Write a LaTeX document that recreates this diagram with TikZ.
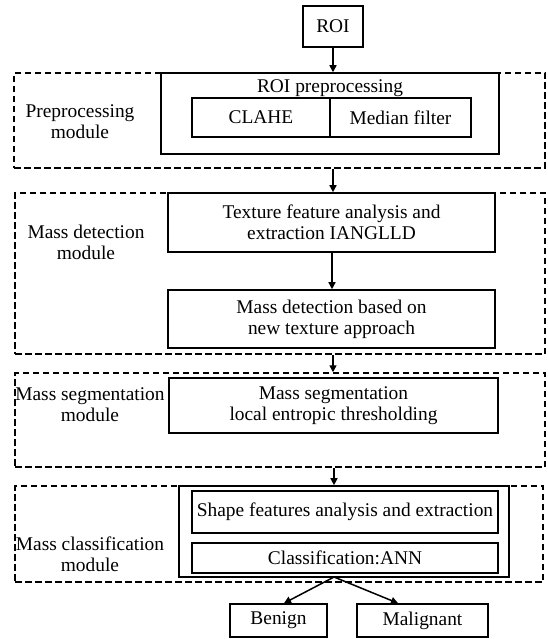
\documentclass[tikz,border=0pt]{standalone}
\usepackage{fontspec}
\setmainfont{Liberation Serif}
\usetikzlibrary{arrows.meta}
\begin{document}
\begin{tikzpicture}[x=1pt,y=-1pt,
  every node/.style={font=\fontsize{19.4}{21}\selectfont},
  box/.style={draw, line width=1.6pt, inner sep=0pt, align=center},
  frame/.style={draw, line width=1.5pt, dash pattern=on 6.5pt off 3.5pt, inner sep=0pt},
  lbl/.style={align=center, inner sep=0pt},
  arr/.style={line width=1.5pt, -{Triangle[length=7pt,width=7pt]}}
]
\useasboundingbox (0,0) rectangle (547,639);
\fill[white] (0,0) rectangle (547,639);

% input
\node[box, minimum width=60pt, minimum height=41pt] (roi) at (333,26.5) {ROI};

% preprocessing module
\node[frame, minimum width=531pt, minimum height=95pt] (preframe) at (279.5,120.5) {};
\node[lbl] (prelbl) at (80,122) {Preprocessing\\module};
\node[box, minimum width=338pt, minimum height=81pt] (pre) at (330,113.5) {};
\node[lbl] (pretitle) at (330,88) {ROI preprocessing};
\node[box, minimum width=138pt, minimum height=39pt] (clahe) at (261,117.5) {CLAHE};
\node[box, minimum width=141pt, minimum height=39pt] (median) at (400.5,117.5) {Median filter};

% mass detection module
\node[frame, minimum width=530pt, minimum height=161pt] (detframe) at (280,273.5) {};
\node[lbl] (detlbl) at (86,242) {Mass detection\\module};
\node[box, minimum width=327pt, minimum height=59pt] (tex) at (331.5,222.5) {Texture feature analysis and\\extraction IANGLLD};
\node[box, minimum width=327pt, minimum height=58pt] (mdet) at (331.5,319) {Mass detection based on\\new texture approach};

% mass segmentation module
\node[frame, minimum width=530pt, minimum height=94pt] (segframe) at (280,420) {};
\node[lbl] (seglbl) at (90,405) {Mass segmentation\\module};
\node[box, minimum width=329pt, minimum height=55pt] (seg) at (333.5,405.5) {Mass segmentation\\local entropic thresholding};

% mass classification module
\node[frame, minimum width=528pt, minimum height=96pt] (clsframe) at (279,534) {};
\node[lbl] (clslbl) at (90,554) {Mass classification\\module};
\node[box, minimum width=330pt, minimum height=91pt] (cls) at (344,531.5) {};
\node[box, minimum width=306pt, minimum height=42pt] (shape) at (345,512) {Shape features analysis and extraction};
\node[box, minimum width=306pt, minimum height=30pt] (ann) at (345,558) {Classification:ANN};

% outcomes
\node[box, minimum width=97pt, minimum height=33pt] (benign) at (278.5,620.5) {Benign};
\node[box, minimum width=131pt, minimum height=33pt] (malig) at (422.5,620.5) {Malignant};

% connectors
\coordinate (split) at (334,577);
\draw[arr] (roi.south) -- (roi.south |- preframe.north);
\draw[arr] (roi.south |- preframe.south) -- (roi.south |- tex.north);
\draw[arr] (tex.south -| 332,0) -- (mdet.north -| 332,0);
\draw[arr] (roi.south |- detframe.south) -- (roi.south |- segframe.north);
\draw[arr] (split |- segframe.south) -- (split |- cls.north);
\draw[arr] (split) -- (benign.north -| 284,0);
\draw[arr] (split) -- (malig.north -| 398,0);
\end{tikzpicture}
\end{document}
